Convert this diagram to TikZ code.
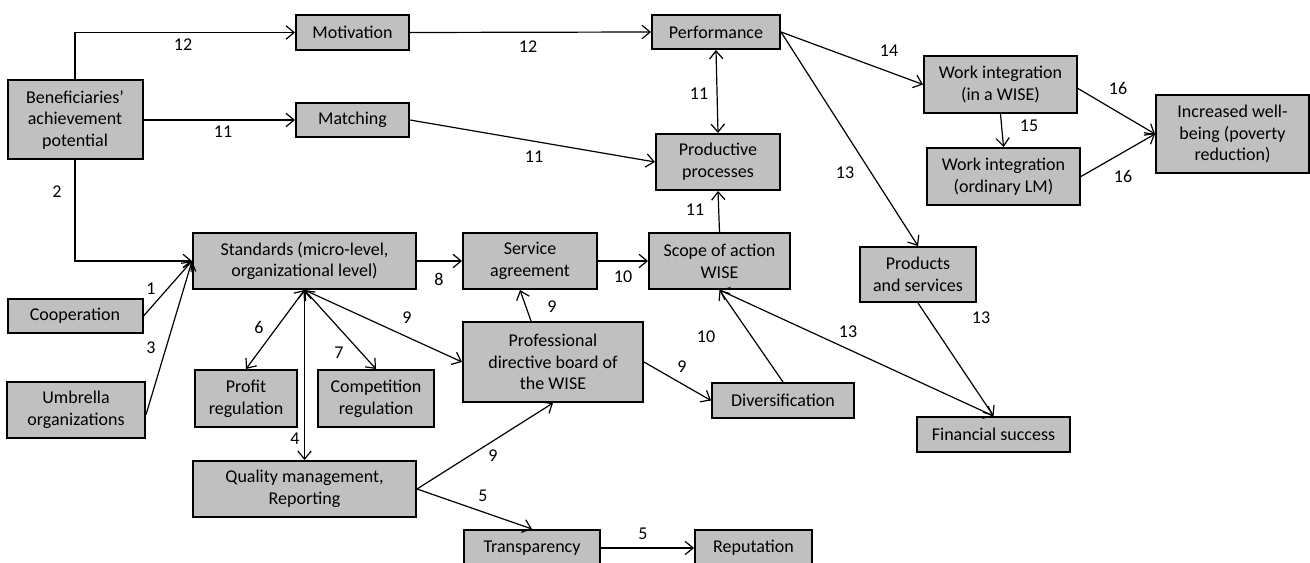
\documentclass[tikz,border=0pt]{standalone}
\usepackage{fontspec}
\setmainfont{Carlito}
\usetikzlibrary{arrows.meta}
\definecolor{boxgray}{RGB}{192,192,192}
\tikzset{
	box/.style={draw, line width=1.5pt, fill=boxgray, align=center, inner sep=0pt, font=\fontsize{13.5}{16.3}\selectfont},
	sz/.style 2 args={minimum width=#1*0.75pt, minimum height=#2*0.75pt},
	lbl/.style={inner sep=0pt, font=\fontsize{13.5}{16.3}\selectfont},
	arr/.style={line width=0.9pt, -{Straight Barb[length=6pt,width=10pt]}},
	darr/.style={line width=0.9pt, {Straight Barb[length=6pt,width=10pt]}-{Straight Barb[length=6pt,width=10pt]}},
}
\begin{document}
\begin{tikzpicture}[x=0.75pt,y=0.75pt,yscale=-1,xscale=1]
	\useasboundingbox (0,0) rectangle (1310,563);
	
	% Boxes
	\node[box, sz={135}{79}] (benef) at (75,120) {Beneficiaries’\\achievement\\potential};
	\node[box, sz={113}{35}] (motiv) at (352.5,32.5) {Motivation};
	\node[box, sz={113}{34}] (match) at (352.5,120) {Matching};
	\node[box, sz={128}{34}] (perf) at (716,32) {Performance};
	\node[box, sz={124}{56}] (prod) at (718,162) {Productive\\processes};
	\node[box, sz={223}{56}] (std) at (304.5,261) {Standards (micro-level,\\organizational level)};
	\node[box, sz={135}{34}] (coop) at (75,316) {Cooperation};
	\node[box, sz={138}{56}] (umb) at (76,410) {Umbrella\\organizations};
	\node[box, sz={102}{57}] (profit) at (246,398.5) {Profit\\regulation};
	\node[box, sz={116}{57}] (comp) at (376,398.5) {Competition\\regulation};
	\node[box, sz={223}{56}] (qual) at (304.5,489) {Quality management,\\Reporting};
	\node[box, sz={134}{56}] (serv) at (530,261) {Service\\agreement};
	\node[box, sz={141}{56}] (scope) at (719.5,261) {Scope of action\\WISE};
	\node[box, sz={180}{80}] (board) at (553,362) {Professional\\directive board of\\the WISE};
	\node[box, sz={142}{35}] (divers) at (783,400.5) {Diversification};
	\node[box, sz={136}{36}] (transp) at (532,548) {Transparency};
	\node[box, sz={117}{36}] (reput) at (753.5,548) {Reputation};
	\node[box, sz={116}{55}] (prodserv) at (918,274.5) {Products\\and services};
	\node[box, sz={153}{35}] (finsucc) at (993.5,434.5) {Financial success};
	\node[box, sz={153}{57}] (wiwise) at (1000.5,84.5) {Work integration\\(in a WISE)};
	\node[box, sz={153}{57}] (wilm) at (1003.5,176.5) {Work integration\\(ordinary LM)};
	\node[box, sz={153}{78}] (wellb) at (1232.5,134) {Increased well-\\being (poverty\\reduction)};
	
	% Connectors
	\draw[arr] (benef.north) |- (motiv.west);
	\draw[arr] (benef.east) -- (match.west);
	\draw[arr] (benef.south) |- (std.west);
	\draw[arr] (coop.east) -- (std.west);
	\draw[arr] ([yshift=3.5pt]umb.east) -- (std.west);
	\draw[arr] (motiv.east) -- (perf.west);
	\draw[arr] (match.east) -- (prod.west);
	\draw[darr] (perf.south) -- (prod.north);
	\draw[arr] (scope.north) -- (prod.south);
	\draw[arr] (std.east) -- (serv.west);
	\draw[arr] (serv.east) -- (scope.west);
	\draw[arr] ([xshift=-16.5pt]board.north) -- ([xshift=-7.5pt]serv.south);
	\draw[darr] (std.south) -- (profit.north);
	\draw[darr] (std.south) -- (comp.north);
	\draw[darr] (std.south) -- (qual.north);
	\draw[arr] (std.south) -- (board.west);
	\draw[arr] (qual.east) -- (board.south);
	\draw[arr] (qual.east) -- (transp.north);
	\draw[arr] (transp.east) -- (reput.west);
	\draw[arr] (board.east) -- (divers.west);
	\draw[arr] (divers.north) -- (scope.south);
	\draw[darr] (finsucc.north) -- (scope.south);
	\draw[arr] (perf.east) -- (prodserv.north);
	\draw[arr] (prodserv.south) -- (finsucc.north);
	\draw[arr] (perf.east) -- (wiwise.west);
	\draw[arr] (wiwise.south) -- (wilm.north);
	\draw[arr] ([yshift=3pt]wiwise.east) -- (wellb.west);
	\draw[arr] (wilm.east) -- (wellb.west);
	
	% Labels
	\node[lbl] (l12a) at (183,45) {12};
	\node[lbl] (l11a) at (223,132) {11};
	\node[lbl] (l2) at (57,192) {2};
	\node[lbl] (l1) at (151,289) {1};
	\node[lbl] (l3) at (151,348) {3};
	\node[lbl] (l6) at (259,327) {6};
	\node[lbl] (l7) at (339,353) {7};
	\node[lbl] (l4) at (295,439) {4};
	\node[lbl] (l9a) at (407,318) {9};
	\node[lbl] (l8) at (439,279) {8};
	\node[lbl] (l12b) at (528,47) {12};
	\node[lbl] (l11b) at (699,94) {11};
	\node[lbl] (l11c) at (534,157) {11};
	\node[lbl] (l11d) at (695,210) {11};
	\node[lbl] (l13a) at (845,173) {13};
	\node[lbl] (l10a) at (623,277) {10};
	\node[lbl] (l9b) at (552,307) {9};
	\node[lbl] (l10b) at (706,337) {10};
	\node[lbl] (l13b) at (848,332) {13};
	\node[lbl] (l9c) at (682,367) {9};
	\node[lbl] (l9d) at (493,456) {9};
	\node[lbl] (l5a) at (483,496) {5};
	\node[lbl] (l5b) at (643,534) {5};
	\node[lbl] (l14) at (889,51) {14};
	\node[lbl] (l16a) at (1118,88) {16};
	\node[lbl] (l15) at (1029,126) {15};
	\node[lbl] (l16b) at (1123,176) {16};
	\node[lbl] (l13c) at (981,318) {13};
	
\end{tikzpicture}
\end{document}
